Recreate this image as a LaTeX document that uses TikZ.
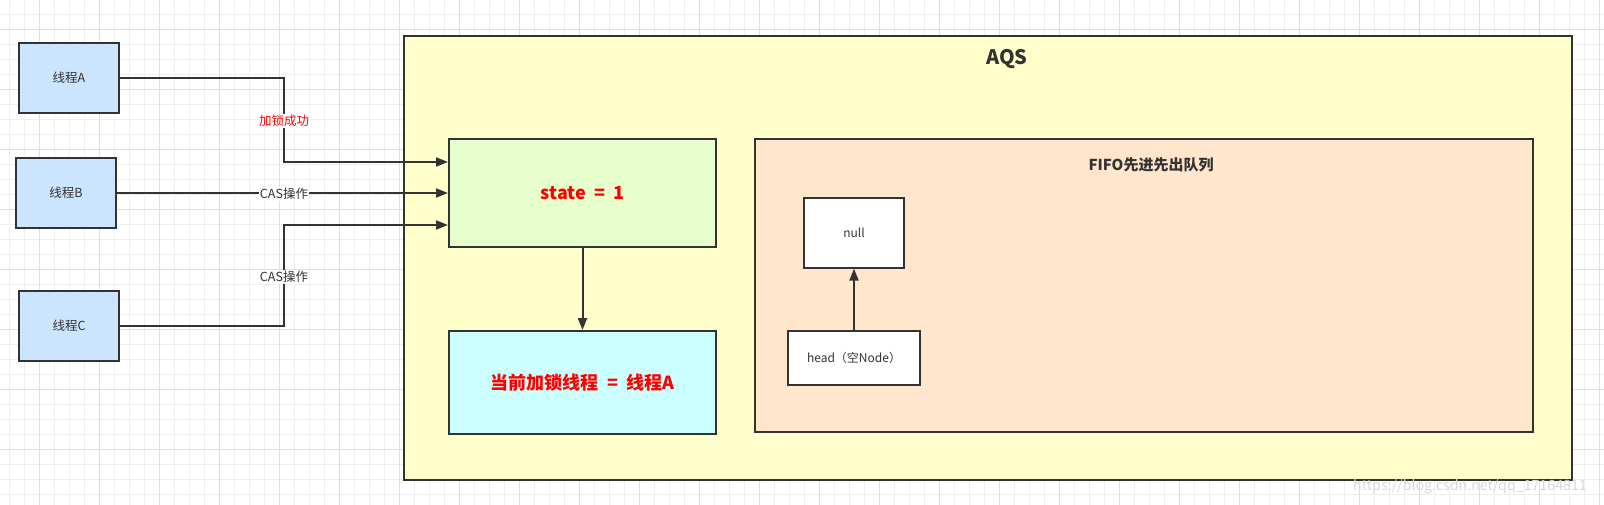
\documentclass[tikz,border=0pt]{standalone}
\usepackage{fontspec}
\setmainfont{Noto Sans CJK SC}
\usepackage{tikz}
\usetikzlibrary{positioning, arrows.meta, calc}
\definecolor{lnkgray}{HTML}{333333}
\definecolor{thrblue}{HTML}{CCE5FF}
\definecolor{aqsyellow}{HTML}{FFFFCC}
\definecolor{stategreen}{HTML}{E6FFCC}
\definecolor{ownercyan}{HTML}{CCFFFF}
\definecolor{fifopeach}{HTML}{FFE6CC}
\definecolor{gridminor}{HTML}{EFEFEF}
\definecolor{gridmajor}{HTML}{E0E0E0}
\definecolor{lockred}{HTML}{FF0000}
\tikzset{
  thread/.style={
    draw=lnkgray, line width=2pt, fill=thrblue,
    minimum width=100pt, minimum height=70pt, inner sep=0pt,
    text=lnkgray, font=\fontsize{12.5}{14}\selectfont,
  },
  container/.style={
    draw=lnkgray, line width=2pt, inner sep=0pt,
  },
  qnode/.style={
    draw=lnkgray, line width=2pt, fill=white, inner sep=0pt,
    text=lnkgray, font=\fontsize{12}{14}\selectfont,
  },
  conn/.style={draw=lnkgray, line width=2pt},
  edgelbl/.style={fill=white, inner sep=1pt, font=\fontsize{12.5}{14}\selectfont},
}

\begin{document}
\begin{tikzpicture}[x=1pt, y=-1pt, >={Triangle[length=12pt, width=9pt]},
  keybox/.style={container, minimum width=267pt, font=\bfseries\fontsize{18}{20}\selectfont, text=lockred},
  title/.style={text=lnkgray, font=\bfseries\fontsize{15}{17}\selectfont}]

\useasboundingbox (0,0) rectangle (1604,505);
\fill[white] (0,0) rectangle (1604,505);

% grid
\foreach \gx in {9.5,24.5,...,1604} \draw[gridminor, line width=1pt] (\gx,0) -- (\gx,505);
\foreach \gy in {14.5,29.5,...,505} \draw[gridminor, line width=1pt] (0,\gy) -- (1604,\gy);
\foreach \gx in {39.5,99.5,...,1604} \draw[gridmajor, line width=1pt] (\gx,0) -- (\gx,505);
\foreach \gy in {29.5,89.5,...,505} \draw[gridmajor, line width=1pt] (0,\gy) -- (1604,\gy);

% threads
\node[thread] (tA) at (69,78) {线程A};
\node[thread] (tB) at (66,193) {线程B};
\node[thread] (tC) at (69,325.5) {线程C};

% AQS
\node[container, fill=aqsyellow, minimum width=1168pt, minimum height=443.5pt] (aqs) at (988,257.75) {};
\node[title, font=\bfseries\fontsize{20}{22}\selectfont] (aqsTitle) at (1007,59) {AQS};

\node[keybox, fill=stategreen, minimum height=108pt] (state) at (582.5,193) {state\ \ =\ \ 1};
\node[keybox, fill=ownercyan, minimum height=103pt, below=82pt of state] (owner) {当前加锁线程\ \ =\ \ 线程A};

\node[container, fill=fifopeach, minimum width=778pt, minimum height=293pt] (fifo) at (1144,285.5) {};
\node[title] (fifoTitle) at (1151,165) {FIFO先进先出队列};
\node[qnode, minimum width=100pt, minimum height=70pt] (qnull) at (854,232.6) {null};
\node[qnode, minimum width=132pt, minimum height=54pt, below=61pt of qnull] (qhead) {head（空Node）};

% entry points on state
\coordinate (inA) at ($(state.west)+(0,-31)$);
\coordinate (inC) at ($(state.west)+(0,32)$);
\coordinate (bendx) at (284,0);

\draw[conn, ->] (tA.east) -| (inA -| bendx) -- (inA);
\draw[conn, ->] (tB.east) -- (state.west);
\draw[conn, ->] (tC.east) -| (inC -| bendx) -- (inC);
\draw[conn, ->] (state) -- (owner);
\draw[conn, ->] (qhead) -- (qnull);

\node[edgelbl, text=lockred] (lblA) at (284,121) {加锁成功};
\node[edgelbl, text=lnkgray] (lblB) at (284,194) {CAS操作};
\node[edgelbl, text=lnkgray] (lblC) at (284,277) {CAS操作};

% watermark
\node[anchor=west, inner sep=0pt, text=gray!30, font=\fontsize{14.2}{16}\selectfont] (wmark) at (1353,487) {https://blog.csdn.net/qq\_17164811};

\end{tikzpicture}
\end{document}
